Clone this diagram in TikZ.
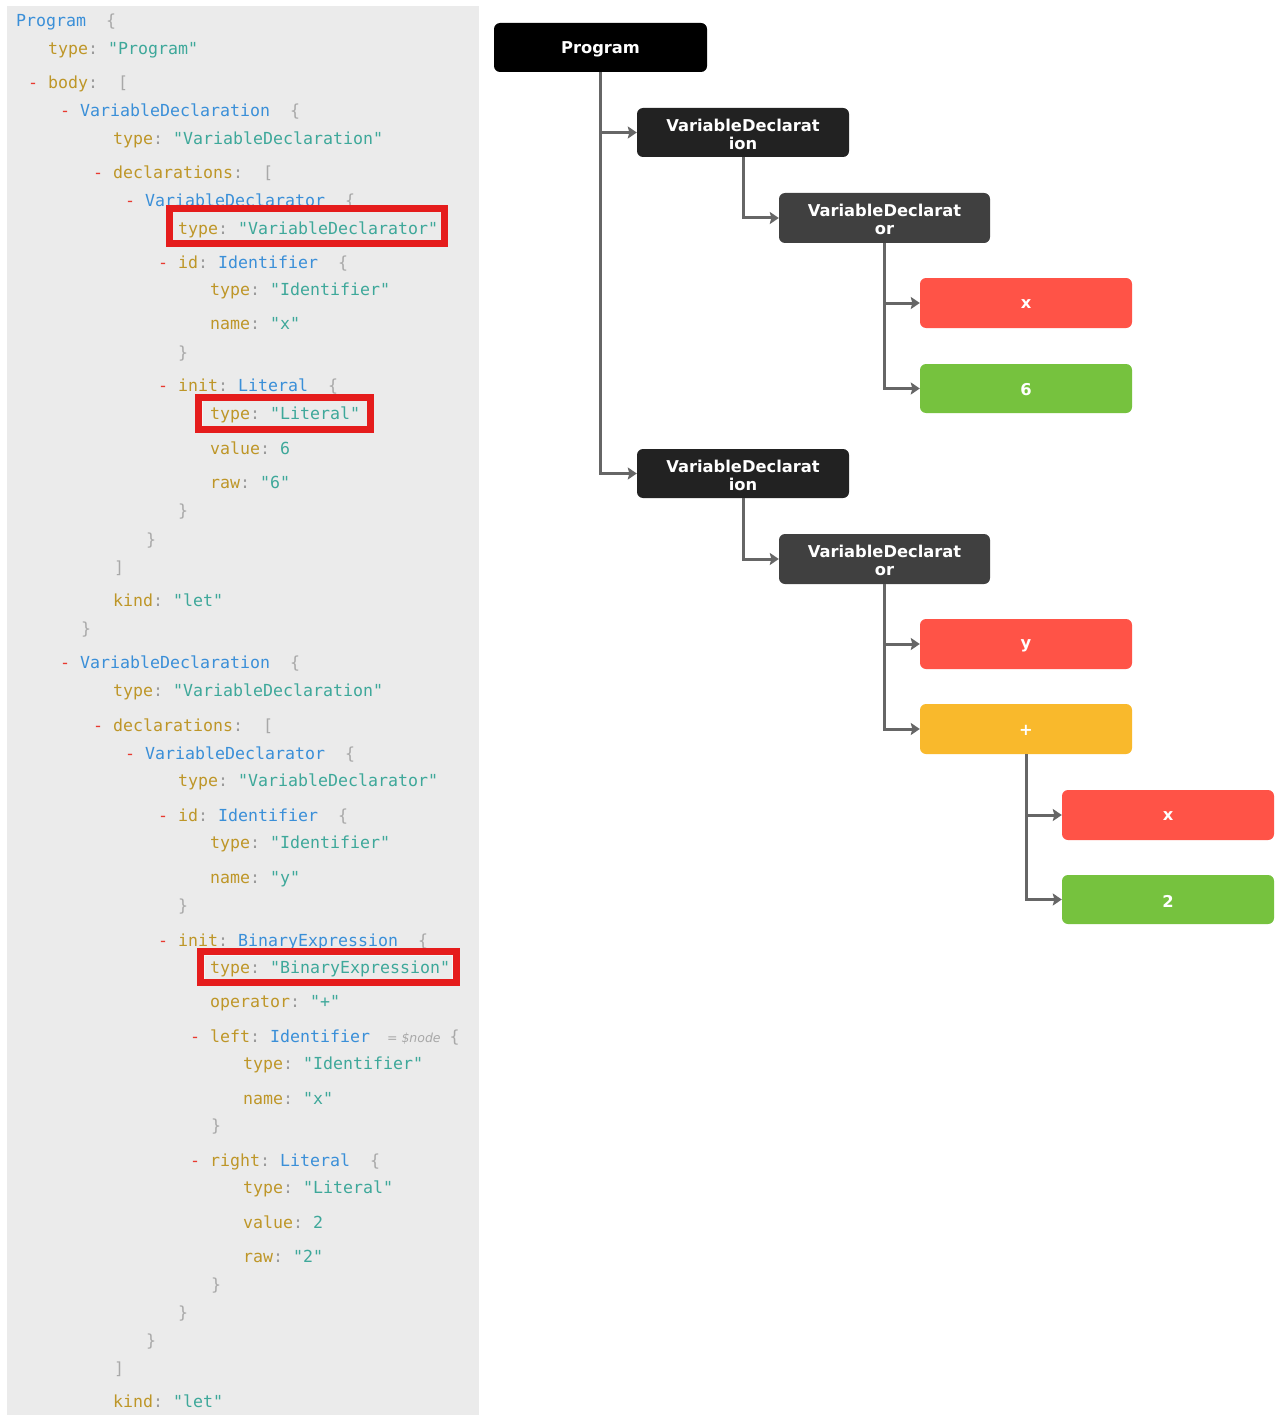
\documentclass[tikz,border=0pt]{standalone}
\usepackage{fontspec}
\setmonofont{DejaVu Sans Mono}
\newfontfamily\treefont{DejaVu Sans}
\newfontfamily\annfont{DejaVu Sans}
\usetikzlibrary{arrows.meta}
\definecolor{panelc}{HTML}{EBEBEB}
\definecolor{keyc}{HTML}{BE9628}
\definecolor{colc}{HTML}{9A9A9A}
\definecolor{strc}{HTML}{3EA89A}
\definecolor{typc}{HTML}{3A8FD8}
\definecolor{dashc}{HTML}{E8392F}
\definecolor{brc}{HTML}{A8A8A8}
\definecolor{hlred}{HTML}{E51C1C}
\definecolor{edgec}{HTML}{666666}
\definecolor{progc}{HTML}{000000}
\definecolor{declc}{HTML}{222222}
\definecolor{dectorc}{HTML}{404040}
\definecolor{idc}{HTML}{FF5347}
\definecolor{litc}{HTML}{76C23E}
\definecolor{binc}{HTML}{F9B92C}
\newcommand\ckey[1]{\textcolor{keyc}{#1}\textcolor{colc}{:}}
\newcommand\cstr[1]{\textcolor{strc}{#1}}
\newcommand\ctyp[1]{\textcolor{typc}{#1}}
\newcommand\cdash{\textcolor{dashc}{-}~}
\newcommand\cbr[1]{\textcolor{brc}{#1}}
\begin{document}
\begin{tikzpicture}[x=1pt,y=-1pt,
  code/.style={anchor=mid west, inner sep=0pt, yshift=-4pt, font=\ttfamily\fontsize{16.6}{20}\selectfont},
  tnode/.style={rounded corners=6pt, minimum width=212pt, minimum height=49pt, inner sep=0pt,
    text=white, align=center, font=\treefont\bfseries\fontsize{16.3}{18}\selectfont},
  tlab/.style={yshift=-1.5pt},
  edge/.style={draw=edgec, line width=3pt, -{Stealth[length=9pt,width=12pt,inset=1.5pt]}},
  hlbox/.style={draw=hlred, line width=6.5pt},
  hlinner/.style={draw=white!92!gray, line width=1pt}]
\useasboundingbox (0,0) rectangle (1275,1415);
\fill[white] (0,0) rectangle (1275,1415);
\fill[panelc] (7,6) rectangle (479,1415);

% ---- code listing ----
\node[code] (l1) at (16,20) {\ctyp{Program}~~\cbr{\{}};
\node[code] (l2) at (48,48) {\ckey{type} \cstr{"Program"}};
\node[code] (l3) at (28,82) {\cdash\ckey{body}~~\cbr{[}};
\node[code] (l4) at (60,110) {\cdash\ctyp{VariableDeclaration}~~\cbr{\{}};
\node[code] (l5) at (113,138) {\ckey{type} \cstr{"VariableDeclaration"}};
\node[code] (l6) at (93,172) {\cdash\ckey{declarations}~~\cbr{[}};
\node[code] (l7) at (125,200) {\cdash\ctyp{VariableDeclarator}~~\cbr{\{}};
\node[code] (l8) at (178,228) {\ckey{type} \cstr{"VariableDeclarator"}};
\node[code] (l9) at (158,262) {\cdash\ckey{id} \ctyp{Identifier}~~\cbr{\{}};
\node[code] (l10) at (210,289) {\ckey{type} \cstr{"Identifier"}};
\node[code] (l11) at (210,323) {\ckey{name} \cstr{"x"}};
\node[code] (l12) at (178,352) {\cbr{\}}};
\node[code] (l13) at (158,385) {\cdash\ckey{init} \ctyp{Literal}~~\cbr{\{}};
\node[code] (l14) at (210,413) {\ckey{type} \cstr{"Literal"}};
\node[code] (l15) at (210,448) {\ckey{value} \cstr{6}};
\node[code] (l16) at (210,482) {\ckey{raw} \cstr{"6"}};
\node[code] (l17) at (178,510) {\cbr{\}}};
\node[code] (l18) at (146,539) {\cbr{\}}};
\node[code] (l19) at (114,567) {\cbr{]}};
\node[code] (l20) at (113,600) {\ckey{kind} \cstr{"let"}};
\node[code] (l21) at (81,628) {\cbr{\}}};
\node[code] (l22) at (60,662) {\cdash\ctyp{VariableDeclaration}~~\cbr{\{}};
\node[code] (l23) at (113,690) {\ckey{type} \cstr{"VariableDeclaration"}};
\node[code] (l24) at (93,725) {\cdash\ckey{declarations}~~\cbr{[}};
\node[code] (l25) at (125,753) {\cdash\ctyp{VariableDeclarator}~~\cbr{\{}};
\node[code] (l26) at (178,780) {\ckey{type} \cstr{"VariableDeclarator"}};
\node[code] (l27) at (158,815) {\cdash\ckey{id} \ctyp{Identifier}~~\cbr{\{}};
\node[code] (l28) at (210,842) {\ckey{type} \cstr{"Identifier"}};
\node[code] (l29) at (210,877) {\ckey{name} \cstr{"y"}};
\node[code] (l30) at (178,905) {\cbr{\}}};
\node[code] (l31) at (158,940) {\cdash\ckey{init} \ctyp{BinaryExpression}~~\cbr{\{}};
\node[code] (l32) at (210,967) {\ckey{type} \cstr{"BinaryExpression"}};
\node[code] (l33) at (210,1001) {\ckey{operator} \cstr{"+"}};
\node[code] (l34) at (190,1036) {\cdash\ckey{left} \ctyp{Identifier}\hspace{17pt}{\color{brc}\annfont\itshape\fontsize{12.5}{14}\selectfont = \$node}\hspace{9pt}\cbr{\{}};
\node[code] (l35) at (243,1063) {\ckey{type} \cstr{"Identifier"}};
\node[code] (l36) at (243,1098) {\ckey{name} \cstr{"x"}};
\node[code] (l37) at (211,1125) {\cbr{\}}};
\node[code] (l38) at (190,1160) {\cdash\ckey{right} \ctyp{Literal}~~\cbr{\{}};
\node[code] (l39) at (243,1187) {\ckey{type} \cstr{"Literal"}};
\node[code] (l40) at (243,1222) {\ckey{value} \cstr{2}};
\node[code] (l41) at (243,1256) {\ckey{raw} \cstr{"2"}};
\node[code] (l42) at (211,1284) {\cbr{\}}};
\node[code] (l43) at (178,1312) {\cbr{\}}};
\node[code] (l44) at (146,1340) {\cbr{\}}};
\node[code] (l45) at (114,1368) {\cbr{]}};
\node[code] (l46) at (113,1401) {\ckey{kind} \cstr{"let"}};

% ---- highlight boxes ----
\draw[hlinner] (172.5,211.5) rectangle (441.5,241);
\draw[hlbox] (169.5,208.5) rectangle (444.5,243.5);
\draw[hlinner] (202.5,400.5) rectangle (367,426.5);
\draw[hlbox] (198.5,397.5) rectangle (370.5,429.5);
\draw[hlinner] (204,955) rectangle (452,979.5);
\draw[hlbox] (200.5,951.5) rectangle (456.5,982.5);

% ---- tree ----
\node[tnode, fill=progc, minimum width=213pt] (prog) at (600.5,47.5) {};
\node[tnode, fill=declc] (vd1) at (743,132.5) {};
\node[tnode, fill=dectorc, minimum width=211pt, minimum height=50pt] (vdor1) at (884.5,218) {};
\node[tnode, fill=idc, minimum height=50pt] (x1) at (1026,303) {};
\node[tnode, fill=litc] (six) at (1026,388.5) {};
\node[tnode, fill=declc] (vd2) at (743,473.5) {};
\node[tnode, fill=dectorc, minimum width=211pt, minimum height=50pt] (vdor2) at (884.5,559) {};
\node[tnode, fill=idc, minimum height=50pt] (yy) at (1026,644) {};
\node[tnode, fill=binc, minimum height=50pt] (plus) at (1026,729) {};
\node[tnode, fill=idc, minimum height=50pt] (x2) at (1168,815) {};
\node[tnode, fill=litc] (two) at (1168,899.5) {};

\node[tnode, tlab, minimum width=0pt, minimum height=0pt] (tprog) at (prog) {Program};
\node[tnode, tlab, minimum width=0pt, minimum height=0pt] (tvd1) at (vd1) {VariableDeclarat\\ion};
\node[tnode, tlab, minimum width=0pt, minimum height=0pt] (tvdor1) at (vdor1) {VariableDeclarat\\or};
\node[tnode, tlab, minimum width=0pt, minimum height=0pt] (tx1) at (x1) {x};
\node[tnode, tlab, minimum width=0pt, minimum height=0pt] (tsix) at (six) {6};
\node[tnode, tlab, minimum width=0pt, minimum height=0pt] (tvd2) at (vd2) {VariableDeclarat\\ion};
\node[tnode, tlab, minimum width=0pt, minimum height=0pt] (tvdor2) at (vdor2) {VariableDeclarat\\or};
\node[tnode, tlab, minimum width=0pt, minimum height=0pt] (tyy) at (yy) {y};
\node[tnode, tlab, minimum width=0pt, minimum height=0pt] (tplus) at (plus) {+};
\node[tnode, tlab, minimum width=0pt, minimum height=0pt] (tx2) at (x2) {x};
\node[tnode, tlab, minimum width=0pt, minimum height=0pt] (ttwo) at (two) {2};

\draw[edge] (prog.south) |- (vd1.west);
\draw[edge] (prog.south) |- (vd2.west);
\draw[edge] (vd1.south) |- (vdor1.west);
\draw[edge] (vdor1.south) |- (x1.west);
\draw[edge] (vdor1.south) |- (six.west);
\draw[edge] (vd2.south) |- (vdor2.west);
\draw[edge] (vdor2.south) |- (yy.west);
\draw[edge] (vdor2.south) |- (plus.west);
\draw[edge] (plus.south) |- (x2.west);
\draw[edge] (plus.south) |- (two.west);
\end{tikzpicture}
\end{document}
